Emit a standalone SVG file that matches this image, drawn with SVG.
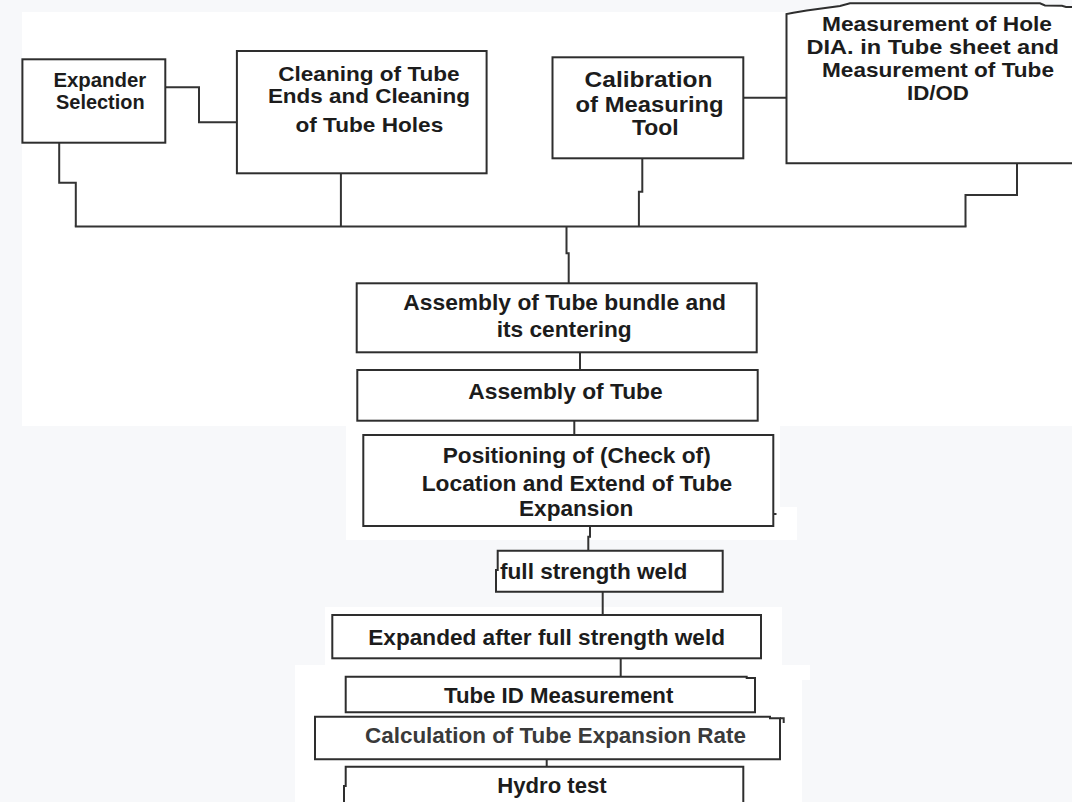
<svg xmlns="http://www.w3.org/2000/svg" width="1072" height="802" viewBox="0 0 1072 802">
<style>
.box{fill:#ffffff;stroke:#2e2e2e;stroke-width:2}
.edge{fill:none;stroke:#333333;stroke-width:2}
.t{font-family:"Liberation Sans",Arial,sans-serif;font-weight:bold;fill:#1c1c1c;font-size:21px}
.s{font-size:22px}
.lt{fill:#3a3a3a}
</style>
<g id="background">
<rect x="0" y="0" width="1072" height="802" fill="#f7f8fa"/>
<rect x="22" y="12" width="1050" height="414" fill="#ffffff"/>
<rect x="346" y="426" width="434" height="81" fill="#ffffff"/>
<rect x="346" y="507" width="451" height="33" fill="#ffffff"/>
<rect x="325" y="607" width="457" height="58" fill="#ffffff"/>
<rect x="295" y="665" width="515" height="15" fill="#ffffff"/>
<rect x="295" y="680" width="507" height="122" fill="#ffffff"/>
</g>
<g id="connectors">
<polyline class="edge" points="165.3,87.3 199,87.3 199,122.3 236.9,122.3"/>
<polyline class="edge" points="743.3,97.7 786.5,97.7"/>
<polyline class="edge" points="59.2,142.7 59.2,182.7 75.8,182.7 75.8,226.5"/>
<line class="edge" x1="340.9" y1="173.3" x2="340.9" y2="226.5"/>
<polyline class="edge" points="642.3,158.3 642.3,191.7 638.9,191.7 638.9,226.5"/>
<polyline class="edge" points="1017,163.3 1017,195 965.5,195 965.5,226.5"/>
<line class="edge" x1="74.8" y1="226.5" x2="966.5" y2="226.5"/>
<polyline class="edge" points="566.5,226.5 566.5,253.3 568.7,253.3 568.7,283.3"/>
<line class="edge" x1="580" y1="352.3" x2="580" y2="370"/>
<line class="edge" x1="574.3" y1="420.7" x2="574.3" y2="435"/>
<polyline class="edge" points="590,526 590,536.7 588.3,536.7 588.3,550.7"/>
<line class="edge" x1="602.7" y1="591.7" x2="602.7" y2="615"/>
<line class="edge" x1="620.7" y1="658.3" x2="620.7" y2="676.7"/>
<line class="edge" x1="546.7" y1="759.3" x2="546.7" y2="766.7"/>
</g>
<g id="n1">
<rect class="box" x="22.4" y="59.3" width="142.9" height="83.4"/>
<text class="t" x="53.4" y="87.3" textLength="92.9" lengthAdjust="spacingAndGlyphs">Expander</text>
<text class="t" x="56.1" y="109.3" textLength="88.5" lengthAdjust="spacingAndGlyphs">Selection</text>
</g>
<g id="n2">
<rect class="box" x="236.9" y="51" width="249.7" height="122.3"/>
<text class="t" x="278.2" y="80.7" textLength="181.5" lengthAdjust="spacingAndGlyphs">Cleaning of Tube</text>
<text class="t" x="267.9" y="103.3" textLength="202.1" lengthAdjust="spacingAndGlyphs">Ends and Cleaning</text>
<text class="t" x="295.5" y="131.7" textLength="147.7" lengthAdjust="spacingAndGlyphs">of Tube Holes</text>
</g>
<g id="n3">
<rect class="box" x="552.5" y="57.3" width="190.8" height="101"/>
<text class="t s" x="584.6" y="87.3" textLength="127.9" lengthAdjust="spacingAndGlyphs">Calibration</text>
<text class="t s" x="575.6" y="111.7" textLength="148" lengthAdjust="spacingAndGlyphs">of Measuring</text>
<text class="t s" x="632" y="135" textLength="46.6" lengthAdjust="spacingAndGlyphs">Tool</text>
</g>
<g id="n4">
<path class="box" d="M1080,163.3 L786.5,163.3 L786.5,14 L793.3,12.7 L806.7,10.5 L823.3,8.3 L840,6 L850,3.3 L1040,3.3 L1045,5.5 L1062,5.8 L1066,7 L1080,7"/>
<text class="t" x="822" y="30.7" textLength="230" lengthAdjust="spacingAndGlyphs">Measurement of Hole</text>
<text class="t" x="806.5" y="54" textLength="252.5" lengthAdjust="spacingAndGlyphs">DIA. in Tube sheet and</text>
<text class="t" x="822" y="77.3" textLength="232" lengthAdjust="spacingAndGlyphs">Measurement of Tube</text>
<text class="t" x="907" y="100" textLength="62" lengthAdjust="spacingAndGlyphs">ID/OD</text>
</g>
<g id="n5">
<rect class="box" x="356.7" y="283.3" width="400" height="69"/>
<text class="t s" x="403.3" y="310" textLength="322.7" lengthAdjust="spacingAndGlyphs">Assembly of Tube bundle and</text>
<text class="t s" x="496.7" y="336.7" textLength="135" lengthAdjust="spacingAndGlyphs">its centering</text>
</g>
<g id="n6">
<rect class="box" x="357.3" y="370" width="400.4" height="50.7"/>
<text class="t s" x="468.3" y="399.3" textLength="194.4" lengthAdjust="spacingAndGlyphs">Assembly of Tube</text>
</g>
<g id="n7">
<rect class="box" x="363.3" y="435" width="410" height="91"/>
<line class="edge" x1="773.3" y1="514" x2="776.5" y2="514"/>
<text class="t s" x="442.7" y="463.3" textLength="268" lengthAdjust="spacingAndGlyphs">Positioning of (Check of)</text>
<text class="t s" x="421.7" y="490.7" textLength="310.6" lengthAdjust="spacingAndGlyphs">Location and Extend of Tube</text>
<text class="t s" x="519" y="516" textLength="114.3" lengthAdjust="spacingAndGlyphs">Expansion</text>
</g>
<g id="n8">
<path class="box" d="M497.7,570 L497.7,550.7 L722.7,550.7 L722.7,591.7 L496,591.7 L496,570 Z"/>
<text class="t s" x="500" y="579.3" textLength="187.3" lengthAdjust="spacingAndGlyphs">full strength weld</text>
</g>
<g id="n9">
<rect class="box" x="332.3" y="615" width="428.7" height="43.3"/>
<text class="t s" x="368.3" y="645" textLength="356.7" lengthAdjust="spacingAndGlyphs">Expanded after full strength weld</text>
</g>
<g id="n10">
<path class="box" d="M345.7,676.7 L746.7,676.7 L746.7,678 L755,678 L755,712.3 L345.7,712.3 Z"/>
<text class="t s" x="444" y="702.7" textLength="229.3" lengthAdjust="spacingAndGlyphs">Tube ID Measurement</text>
</g>
<g id="n11">
<path class="box" d="M315,716.7 L770,716.7 L770,718.3 L780,718.3 L780,759.3 L315,759.3 Z"/>
<polyline class="edge" points="780,718.3 783.7,718.3 783.7,723"/>
<text class="t s lt" x="365" y="743.3" textLength="381" lengthAdjust="spacingAndGlyphs">Calculation of Tube Expansion Rate</text>
</g>
<g id="n12">
<path class="box" d="M344,812 L344,786 L345.7,786 L345.7,766.7 L743.3,766.7 L743.3,812"/>
<text class="t s" x="497.3" y="793.3" textLength="109.4" lengthAdjust="spacingAndGlyphs">Hydro test</text>
</g>
</svg>
